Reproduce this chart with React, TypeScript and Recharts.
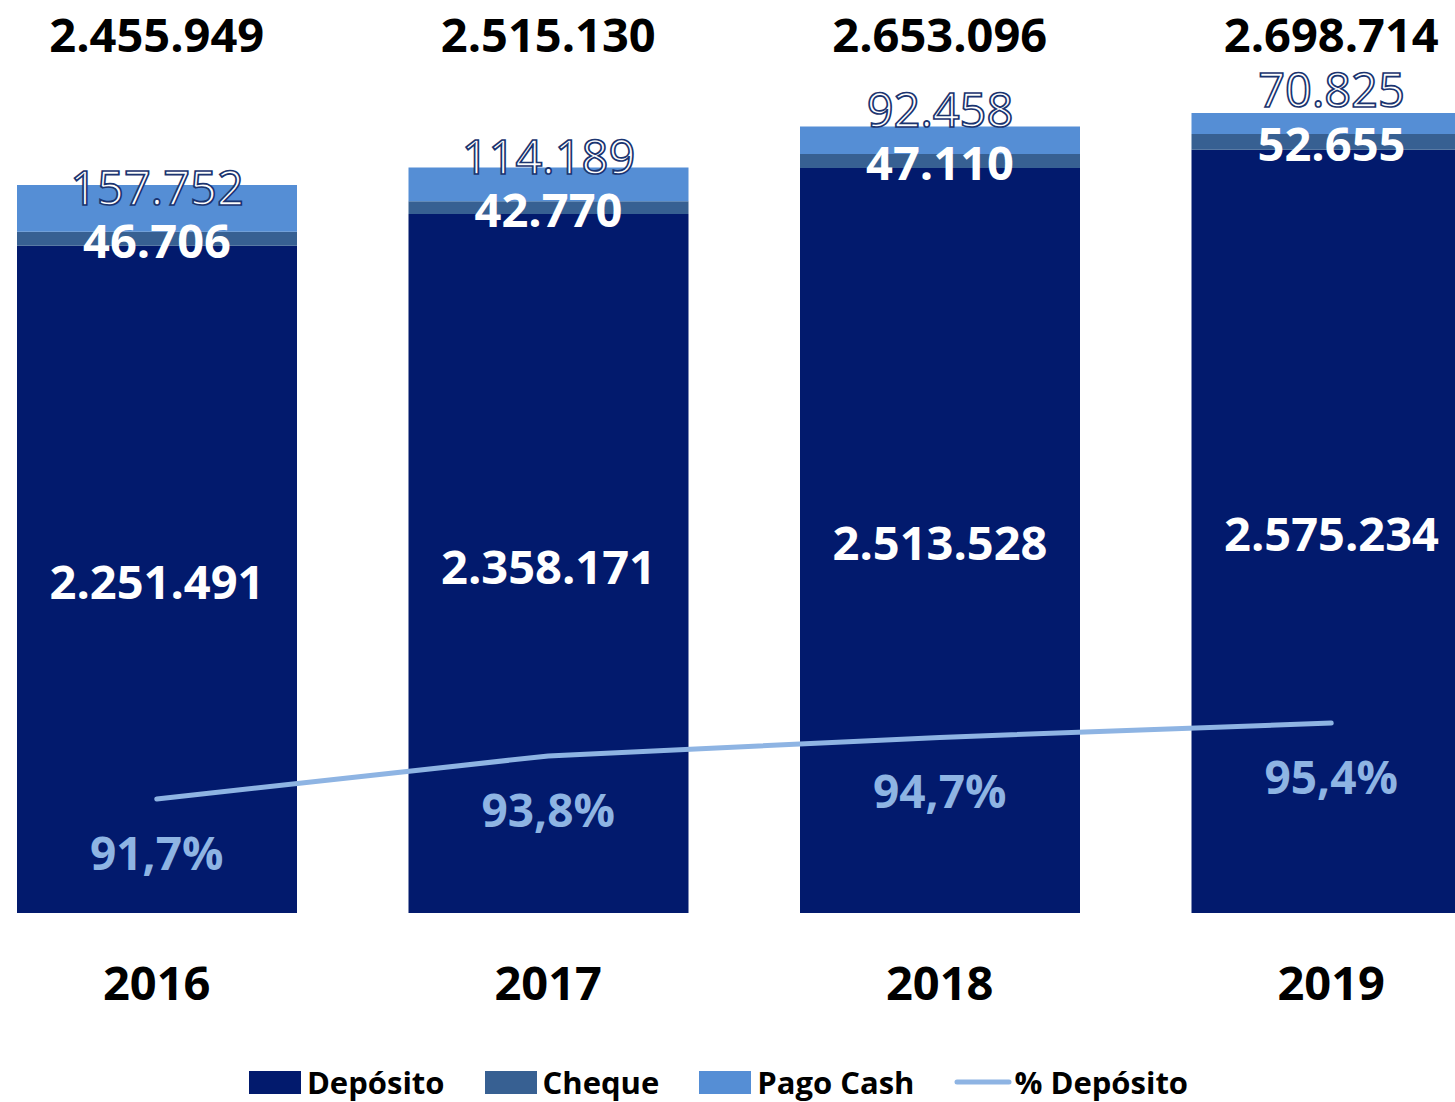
import React from 'react';
import { ComposedChart, Bar, Line, XAxis, YAxis, Legend, LabelList } from 'recharts';

const years = ['2016', '2017', '2018', '2019'];
const deposito = [2251491, 2358171, 2513528, 2575234];
const cheque = [46706, 42770, 47110, 52655];
const pagoCash = [157752, 114189, 92458, 70825];
const totals = [2455949, 2515130, 2653096, 2698714];
const pctDeposito = [91.7, 93.8, 94.7, 95.4];
const legendOrder = ['Depósito', 'Cheque', 'Pago Cash', '% Depósito'];

const data = years.map((y, i) => ({
  year: y,
  total: totals[i],
  deposito: deposito[i],
  cheque: cheque[i],
  pagoCash: pagoCash[i],
  pct: pctDeposito[i],
}));

const FONT = '"Open Sans", "DejaVu Sans", sans-serif';
const C_DEP = '#021a6d';
const C_CHQ = '#376092';
const C_CASH = '#558ed5';
const C_LINE = '#8eb4e3';

const fmt = (n: number) => String(n).replace(/\B(?=(\d{3})+(?!\d))/g, '.');
const fmtPct = (n: number) => n.toFixed(1).replace('.', ',') + '%';

const TopTick = (props: any) => {
  const { x, y, payload } = props;
  return (
    <text x={x} y={y - 18} textAnchor="middle" fontFamily={FONT} fontWeight={700} fontSize={47} fill="#000">
      {fmt(Number(payload.value))}
    </text>
  );
};

const BottomTick = (props: any) => {
  const { x, y, payload } = props;
  return (
    <text x={x} y={y + 87} textAnchor="middle" fontFamily={FONT} fontWeight={700} fontSize={47} fill="#000">
      {payload.value}
    </text>
  );
};

const DepLabel = (props: any) => {
  const { x, y, width, height, value } = props;
  return (
    <text x={x + width / 2} y={y + height / 2 + 20} textAnchor="middle" fontFamily={FONT} fontWeight={700} fontSize={47} fill="#fff">
      {fmt(Number(value))}
    </text>
  );
};

const ChqLabel = (props: any) => {
  const { x, y, width, height, value } = props;
  return (
    <text x={x + width / 2} y={y + height / 2 + 19} textAnchor="middle" fontFamily={FONT} fontWeight={700} fontSize={47} fill="#fff">
      {fmt(Number(value))}
    </text>
  );
};

const CashLabel = (props: any) => {
  const { x, y, width, height, value } = props;
  return (
    <text x={x + width / 2} y={y + height - 27} textAnchor="middle" fontFamily={FONT} fontWeight={400} fontSize={47} fill="#fff" stroke="#1a3470" strokeWidth={1.7}>
      {fmt(Number(value))}
    </text>
  );
};

const PctLabel = (props: any) => {
  const { x, y, value } = props;
  return (
    <text x={x} y={y + 71} textAnchor="middle" fontFamily={FONT} fontWeight={700} fontSize={46} fill={C_LINE}>
      {fmtPct(Number(value))}
    </text>
  );
};

const LegendContent = (props: any) => {
  const payload = [...(props.payload || [])].sort(
    (a: any, b: any) => legendOrder.indexOf(a.value) - legendOrder.indexOf(b.value)
  );
  return (
    <div
      style={{
        height: 69,
        boxSizing: 'border-box',
        display: 'flex',
        justifyContent: 'center',
        alignItems: 'flex-end',
        paddingBottom: 2,
        paddingRight: 50,
        fontFamily: FONT,
        fontWeight: 700,
        fontSize: 31,
        color: '#000',
      }}
    >
      {payload.map((p: any, i: number) => (
        <div key={i} style={{ display: 'flex', alignItems: 'center', marginLeft: i === 0 ? 0 : 40, lineHeight: '36px' }}>
          {p.type === 'line' ? (
            <svg width={58} height={24} style={{ marginRight: 2 }}>
              <line x1={3} y1={12} x2={55} y2={12} stroke={p.color} strokeWidth={5} strokeLinecap="round" />
            </svg>
          ) : (
            <div style={{ width: 52, height: 23, background: p.color, marginRight: 6 }} />
          )}
          <span>{p.value}</span>
        </div>
      ))}
    </div>
  );
};

export default function App() {
  return (
    <div style={{ position: 'fixed', left: 0, top: 0, width: 1455, height: 1102, overflow: 'hidden', background: '#fff' }}>
      <div style={{ position: 'absolute', left: -39.5, top: 0 }}>
        <ComposedChart width={1566} height={1102} data={data} margin={{ top: 0, right: 0, bottom: 0, left: 0 }} barCategoryGap={0}>
          <XAxis
            xAxisId="top"
            dataKey="total"
            orientation="top"
            height={70}
            axisLine={false}
            tickLine={false}
            tickSize={0}
            tickMargin={0}
            tick={<TopTick />}
            interval={0}
          />
          <XAxis
            dataKey="year"
            height={120}
            axisLine={false}
            tickLine={false}
            tickSize={0}
            tickMargin={0}
            tick={<BottomTick />}
            interval={0}
          />
          <YAxis yAxisId="val" hide domain={[0, 2844000]} />
          <YAxis yAxisId="pct" hide orientation="right" domain={[86.15, 127.2]} />
          <Legend verticalAlign="bottom" content={<LegendContent />} />
          <Bar dataKey="deposito" name="Depósito" stackId="a" yAxisId="val" fill={C_DEP} barSize={280} isAnimationActive={false}>
            <LabelList dataKey="deposito" content={<DepLabel />} />
          </Bar>
          <Bar dataKey="cheque" name="Cheque" stackId="a" yAxisId="val" fill={C_CHQ} barSize={280} isAnimationActive={false}>
            <LabelList dataKey="cheque" content={<ChqLabel />} />
          </Bar>
          <Bar dataKey="pagoCash" name="Pago Cash" stackId="a" yAxisId="val" fill={C_CASH} barSize={280} isAnimationActive={false}>
            <LabelList dataKey="pagoCash" content={<CashLabel />} />
          </Bar>
          <Line
            dataKey="pct"
            name="% Depósito"
            xAxisId="top"
            yAxisId="pct"
            type="linear"
            stroke={C_LINE}
            strokeWidth={5}
            strokeLinecap="round"
            dot={false}
            activeDot={false}
            legendType="line"
            isAnimationActive={false}
          >
            <LabelList dataKey="pct" content={<PctLabel />} />
          </Line>
        </ComposedChart>
      </div>
    </div>
  );
}
